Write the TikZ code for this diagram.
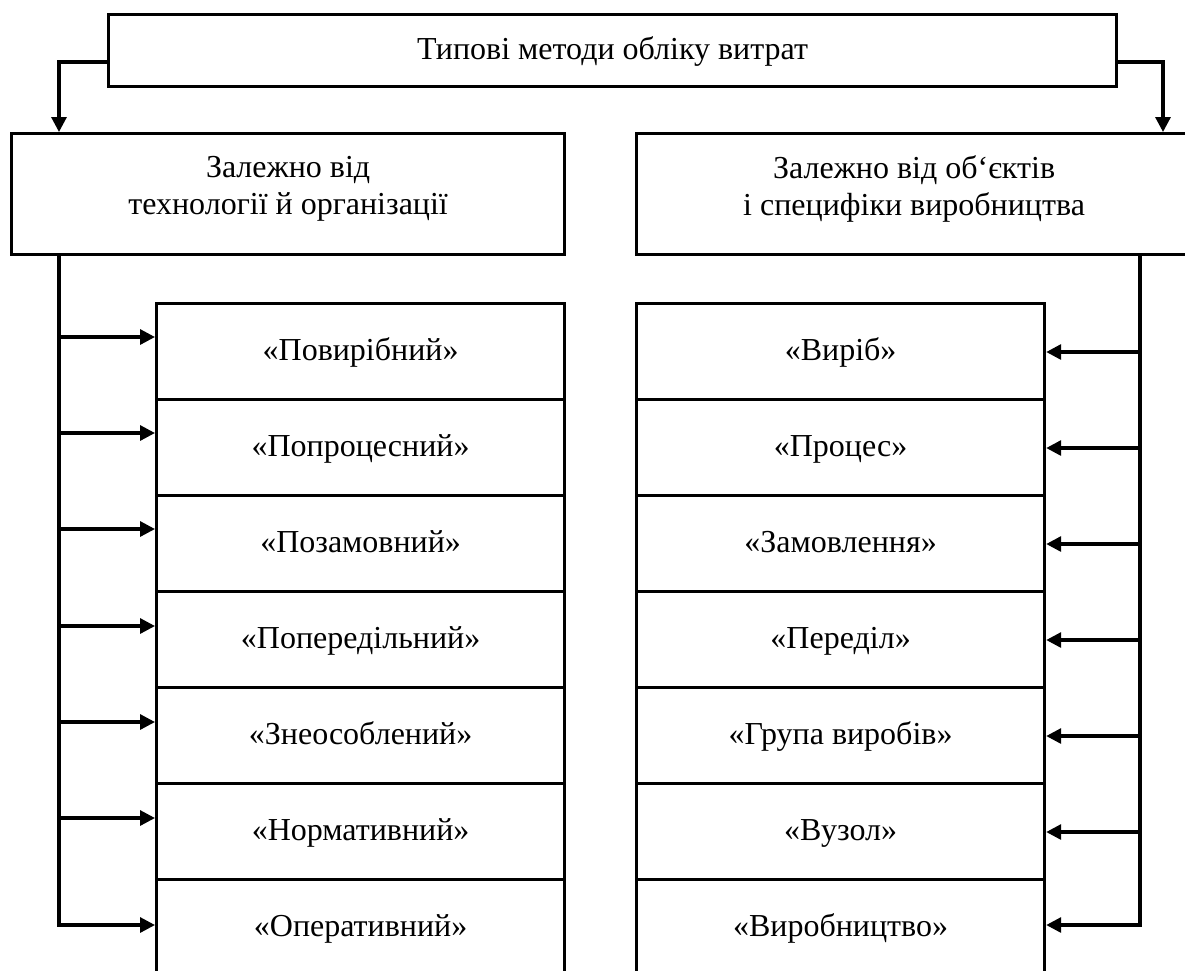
\documentclass[tikz,border=0pt]{standalone}
\usepackage{fontspec}
\setmainfont{Liberation Serif}
\usetikzlibrary{arrows.meta}
\begin{document}
\begin{tikzpicture}[x=1pt,y=-1pt,
  box/.style={draw, line width=3.2pt, inner sep=0pt, anchor=north west,
    font=\fontsize{32}{37}\selectfont},
  rowbox/.style={box, minimum width=408pt, minimum height=96pt, text height=22pt, text depth=4pt},
  twoline/.style={box, minimum height=121pt},
  lbl/.style={align=center, font=\fontsize{32}{37}\selectfont, yshift=5pt},
  arr/.style={line width=3.2pt, -{Triangle[length=15pt,width=15pt]}}]
\clip (0,0) rectangle (1185,970);
\useasboundingbox (0,0) rectangle (1185,970);
\fill[white] (0,0) rectangle (1185,970);
% top box
\node[box, minimum width=1008pt, minimum height=72pt, text height=22pt, text depth=5pt] (T) at (107,13) {Типові методи обліку витрат};
% second level
\node[twoline, minimum width=553pt, label={[lbl]center:Залежно від\\технології й організації}] (A) at (10,132) {};
\node[twoline, minimum width=555pt, label={[lbl]center:Залежно від об‘єктів\\і специфіки виробництва}] (B) at (635,132) {};
% left column
\node[rowbox] (L1) at (155,302) {«Повирібний»};
\node[rowbox] (L2) at (155,398) {«Попроцесний»};
\node[rowbox] (L3) at (155,494) {«Позамовний»};
\node[rowbox] (L4) at (155,590) {«Попередільний»};
\node[rowbox] (L5) at (155,686) {«Знеособлений»};
\node[rowbox] (L6) at (155,782) {«Нормативний»};
\node[rowbox] (L7) at (155,878) {«Оперативний»};
% right column
\node[rowbox] (R1) at (635,302) {«Виріб»};
\node[rowbox] (R2) at (635,398) {«Процес»};
\node[rowbox] (R3) at (635,494) {«Замовлення»};
\node[rowbox] (R4) at (635,590) {«Переділ»};
\node[rowbox] (R5) at (635,686) {«Група виробів»};
\node[rowbox] (R6) at (635,782) {«Вузол»};
\node[rowbox] (R7) at (635,878) {«Виробництво»};
% top connectors
\coordinate (tl) at (107,62);
\coordinate (tlc) at (59,62);
\coordinate (tr) at (1115,62);
\coordinate (trc) at (1163,62);
\draw[arr] (tl) -- (tlc) -- (tlc |- A.north);
\draw[arr] (tr) -- (trc) -- (trc |- B.north);
% left spine
\coordinate (la1) at (59,337);
\coordinate (la2) at (59,433);
\coordinate (la3) at (59,529);
\coordinate (la4) at (59,626);
\coordinate (la5) at (59,722);
\coordinate (la6) at (59,818);
\coordinate (la7) at (59,925);
\draw[arr] (la7 |- A.south) -- (la7) -- (la7 -| L7.west);
\foreach \i in {1,...,6}{\draw[arr] (la\i) -- (la\i -| L\i.west);}
% right spine
\coordinate (ra1) at (1140,352);
\coordinate (ra2) at (1140,448);
\coordinate (ra3) at (1140,544);
\coordinate (ra4) at (1140,640);
\coordinate (ra5) at (1140,736);
\coordinate (ra6) at (1140,832);
\coordinate (ra7) at (1140,925);
\draw[arr] (ra7 |- B.south) -- (ra7) -- (ra7 -| R7.east);
\foreach \i in {1,...,6}{\draw[arr] (ra\i) -- (ra\i -| R\i.east);}
\end{tikzpicture}
\end{document}
